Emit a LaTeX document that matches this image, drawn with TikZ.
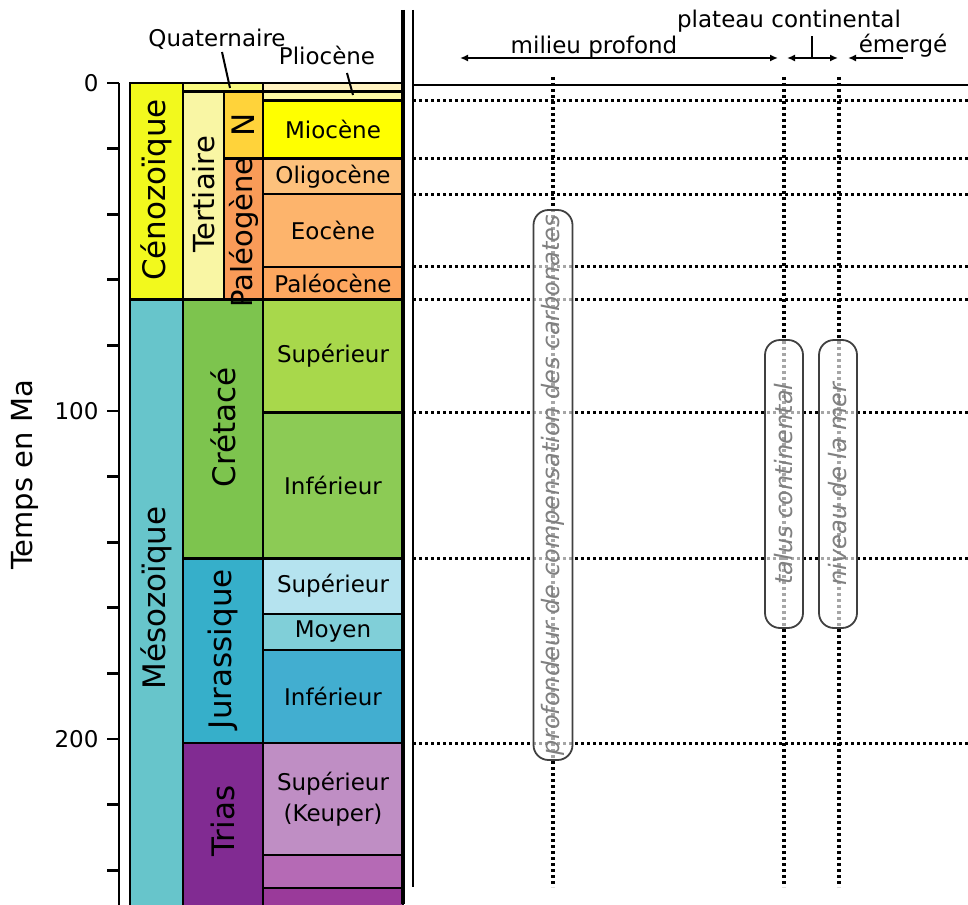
\documentclass[tikz,border=0pt]{standalone}
\usepackage{fontspec}
\setmainfont{DejaVu Sans}
\usetikzlibrary{arrows.meta}

\definecolor{ceno}{HTML}{F2F91D}
\definecolor{meso}{HTML}{67C5CB}
\definecolor{quat}{HTML}{F9F97F}
\definecolor{tert}{HTML}{F9F6A4}
\definecolor{neog}{HTML}{FFD33A}
\definecolor{paleog}{HTML}{F99B58}
\definecolor{cret}{HTML}{7DC44E}
\definecolor{jura}{HTML}{36AFCA}
\definecolor{trias}{HTML}{812B92}
\definecolor{holo}{HTML}{FFF2C0}
\definecolor{plio}{HTML}{FFFAA6}
\definecolor{mio}{HTML}{FFFF00}
\definecolor{oligo}{HTML}{FDC17C}
\definecolor{eo}{HTML}{FDB46C}
\definecolor{paleo}{HTML}{FDA75F}
\definecolor{cretsup}{HTML}{A8D84B}
\definecolor{cretinf}{HTML}{8CCB55}
\definecolor{jursup}{HTML}{B5E3EF}
\definecolor{jurmoy}{HTML}{80CFD8}
\definecolor{jurinf}{HTML}{42AED0}
\definecolor{triassup}{HTML}{BF8EC4}
\definecolor{triasmoy}{HTML}{B56AB5}
\definecolor{triasinf}{HTML}{9A3A9A}

\tikzset{
  cell/.style={draw=black,line width=2.3pt},
  vlab/.style={rotate=90,font=\fontsize{31}{31}\selectfont},
  elab/.style={font=\fontsize{23}{31}\selectfont,align=center},
  hlab/.style={font=\fontsize{23}{24}\selectfont},
  axis/.style={line width=2.8pt},
  grid/.style={line width=3.2pt,dash pattern=on 3pt off 3pt},
  pill/.style={draw=black!75,line width=1.8pt,rounded corners=15pt,
    fill=white,fill opacity=.65,text opacity=1,rotate=90,text=black!50,
    font=\fontsize{24}{24}\selectfont\itshape,inner sep=0pt},
  arr/.style={line width=2.2pt,{Latex[length=8pt,width=7pt]}-{Latex[length=8pt,width=7pt]}}
}

\begin{document}
\begin{tikzpicture}[x=1pt,y=-1pt]
\useasboundingbox (0,0) rectangle (968,904);
\clip (0,0) rectangle (968,904);

% time scale, y in Ma
\begin{scope}[shift={(0,83)},y=-3.28pt]
  % eres
  \filldraw[cell,fill=ceno] (130,0) rectangle (183,66);
  \filldraw[cell,fill=meso] (130,66) rectangle (183,260);
  % periodes
  \filldraw[cell,fill=quat] (183,0) rectangle (263,2.6);
  \filldraw[cell,fill=tert] (183,2.6) rectangle (224,66);
  \filldraw[cell,fill=neog] (224,2.6) rectangle (263,23);
  \filldraw[cell,fill=paleog] (224,23) rectangle (263,66);
  \filldraw[cell,fill=cret] (183,66) rectangle (263,145);
  \filldraw[cell,fill=jura] (183,145) rectangle (263,201.3);
  \filldraw[cell,fill=trias] (183,201.3) rectangle (263,260);
  % epoques
  \foreach \t/\b/\c/\l [count=\i] in {0/2.6/holo/,2.6/5.3/plio/,
      5.3/23/mio/Miocène,23/33.9/oligo/Oligocène,33.9/56/eo/Eocène,
      56/66/paleo/Paléocène,66/100.5/cretsup/Supérieur,
      100.5/145/cretinf/Inférieur,145/161.8/jursup/Supérieur,
      161.8/172.9/jurmoy/Moyen,172.9/201.3/jurinf/Inférieur,
      201.3/235.4/triassup/{Supérieur\\(Keuper)},235.4/245.4/triasmoy/,
      245.4/260/triasinf/}
  {
    \filldraw[cell,fill=\c] (263,\t) rectangle (403,\b);
    \node[elab] (ep\i) at (333,{(\t+\b)/2}) {\l};
  }
  \node[vlab] (cenozoique) at (156.5,32.6) {Cénozoïque};
  \node[vlab] (mesozoique) at (156.5,157) {Mésozoïque};
  \node[vlab,font=\fontsize{29}{29}\selectfont] (tertiaire) at (203.5,34) {Tertiaire};
  \node[vlab] (neogene) at (243.5,12.8) {N};
  \node[vlab,font=\fontsize{29}{29}\selectfont] (paleogene) at (243.5,45.6) {Paléogène};
  \node[vlab] (cretace) at (223,105) {Crétacé};
  \node[vlab] (jurassique) at (223,172.6) {Jurassique};
  \node[vlab] (triasl) at (223,225) {Trias};

  % axe
  \draw[axis] (119,0) -- (119,260);
  \foreach \m in {0,20,...,240}
    \draw[axis] (107,\m) -- (119,\m);
  \foreach \m in {0,100,200}
    \node[hlab,anchor=east] (t\m) at (102,\m) {\m};

  % limites
  \foreach \m in {5.3,23,33.9,56,66,100.5,145,201.3}
    \draw[grid] (413,\m) -- (968,\m);
\end{scope}

\node[rotate=90,font=\fontsize{29}{29}\selectfont] (temps) at (25,475) {Temps en Ma};

\draw[line width=3.6pt] (403,10) -- (403,904);
\draw[line width=2.6pt] (413,10) -- (413,887);
\draw[axis] (413,85) -- (968,85);

% reperes verticaux
\foreach \x/\n in {553/ccd,784/talus,839/mer}
  \draw[grid] (\x,77) -- (\x,887);
\node[pill,minimum width=550pt,minimum height=39pt] (ccd) at (553,485)
  {profondeur de compensation des carbonates};
\node[pill,minimum width=288pt,minimum height=38pt] (talus) at (784,484)
  {talus continental};
\node[pill,minimum width=288pt,minimum height=38pt] (mer) at (838,484)
  {niveau de la mer};

% legendes du haut
\node[hlab,anchor=base] (quaternaire) at (217,47) {Quaternaire};
\node[hlab,anchor=base] (pliocene) at (327,65) {Pliocène};
\draw[line width=2pt] (222,52) -- (230,88);
\draw[line width=2pt] (347,73) -- (353,95);

\node[hlab,anchor=base] (profond) at (594,54) {milieu profond};
\node[hlab,anchor=base] (plateau) at (789,28) {plateau continental};
\node[hlab,anchor=base] (emerge) at (903,53) {émergé};
\coordinate (mp-l) at (460,58);
\coordinate (mp-r) at (778,58);
\coordinate (pc-l) at (787,58);
\coordinate (pc-r) at (838,58);
\coordinate (pc-m) at (812,58);
\coordinate (pc-t) at (812,36);
\coordinate (em-l) at (848,58);
\coordinate (em-r) at (903,58);
\draw[arr] (mp-l) -- (mp-r);
\draw[arr] (pc-l) -- (pc-r);
\draw[line width=2.2pt] (pc-m) -- (pc-t);
\draw[line width=2.2pt,{Latex[length=8pt,width=7pt]}-] (em-l) -- (em-r);
\end{tikzpicture}
\end{document}
